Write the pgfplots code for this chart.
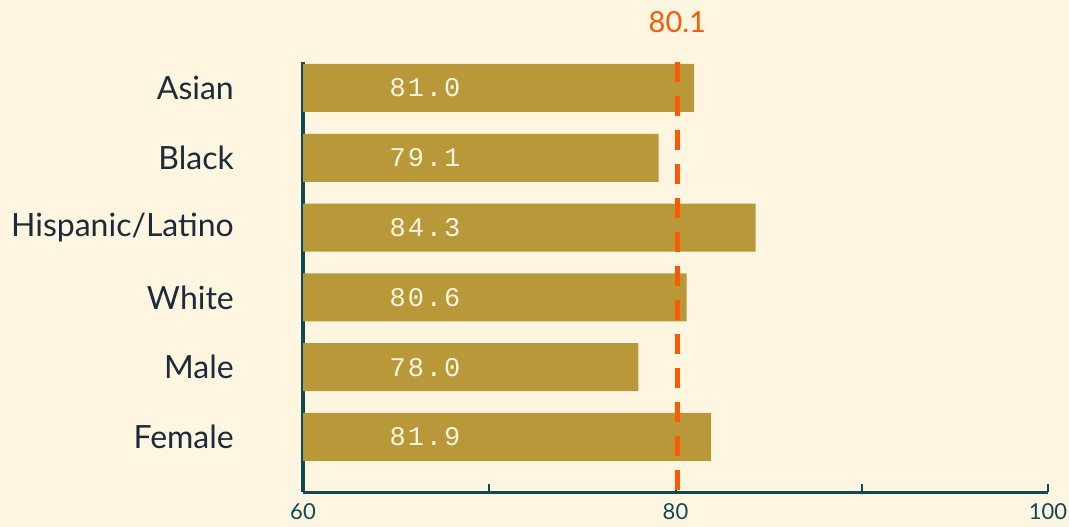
\documentclass[border=0pt]{standalone}
\usepackage{pgfplots}
\pgfplotsset{compat=1.18}
\usepackage{fontspec}
\setmainfont{Lato}
\newfontfamily\valfont{Liberation Mono}
\definecolor{bg}{HTML}{FFF6E2}
\definecolor{bar}{HTML}{B9983A}
\definecolor{axisc}{HTML}{0E4A55}
\definecolor{navy}{HTML}{1B2B3A}
\definecolor{orng}{HTML}{FA5A05}
\definecolor{valc}{HTML}{FFF6E2}
\newcommand{\vgap}{\kern2bp}
\begin{document}
\begin{tikzpicture}
\fill[bg] (0,0) rectangle (1069bp,527bp);
\begin{axis}[
  at={(303bp,35bp)}, anchor=south west,
  scale only axis, width=745bp, height=430bp,
  xmin=60, xmax=100, ymin=-0.372, ymax=5.788,
  y dir=reverse, clip mode=individual,
  axis x line=bottom, axis y line=left,
  axis line style={-, draw=axisc, line width=3bp},
  xtick={60,70,80,90,100}, xticklabels={60,,80,,100},
  ytick={0,1,2,3,4,5},
  yticklabels={Asian,Black,Hispanic/Latino,White,Male,Female},
  major y tick style={draw=none},
  major x tick style={draw=axisc, line width=2bp},
  tick align=inside, major tick length=8bp,
  x tick label style={font=\fontsize{22bp}{26bp}\selectfont, text=axisc, inner sep=0pt, text depth=0pt},
  xticklabel shift=11bp,
  y tick label style={font=\fontsize{32bp}{38bp}\selectfont, text=navy, inner sep=0pt, anchor=east},
  yticklabel shift=69bp,
]
\addplot[xbar, bar width=48bp, bar shift=0pt, fill=bar, draw=none]
  coordinates {(81.0,0) (79.1,1) (84.3,2) (80.6,3) (78.0,4) (81.9,5)};
\addplot[orng, line width=5bp, dash pattern=on 20bp off 14bp]
  coordinates {(80.1,-0.372) (80.1,5.788)};
\addplot[only marks, mark=none, point meta=explicit symbolic,
  nodes near coords,
  nodes near coords style={anchor=center, font=\valfont\fontsize{27bp}{32bp}\selectfont, text=valc}]
  coordinates {(66.55,0)[8\vgap1\vgap.\vgap0] (66.55,1)[7\vgap9\vgap.\vgap1] (66.55,2)[8\vgap4\vgap.\vgap3] (66.55,3)[8\vgap0\vgap.\vgap6] (66.55,4)[7\vgap8\vgap.\vgap0] (66.55,5)[8\vgap1\vgap.\vgap9]};
\node[anchor=base, text=orng, font=\fontsize{29bp}{34bp}\selectfont, inner sep=0pt, yshift=30bp]
  at (axis cs:80.1,-0.372) {80.1};
\end{axis}
\end{tikzpicture}
\end{document}
